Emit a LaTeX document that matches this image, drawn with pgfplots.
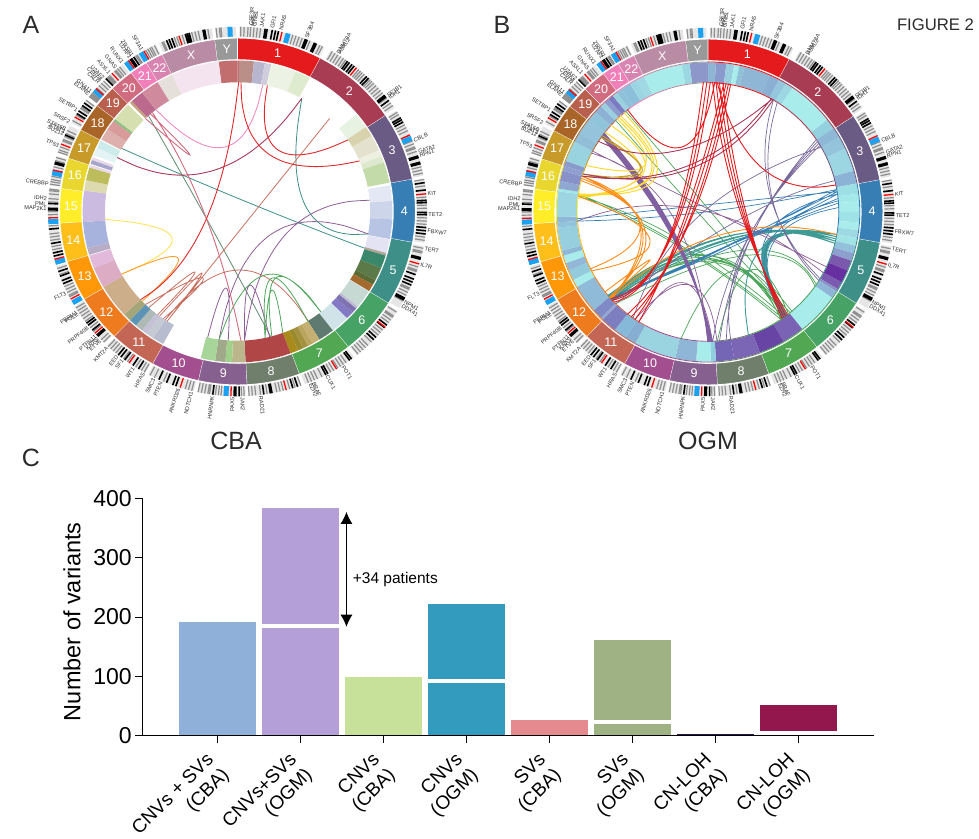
\documentclass[border=0pt]{standalone}
\usepackage{pgfplots}
\pgfplotsset{compat=1.18}
\usepackage{fontspec}
\setmainfont{Liberation Sans}
\usetikzlibrary{arrows.meta}
\definecolor{cband}{HTML}{1BA1F2}
\definecolor{cgm}{HTML}{8E8E8E}
\definecolor{ctxt}{HTML}{2B2B2B}

% ---- ring sector from angles (clockwise from the top) in picture pixels
\newcommand{\sectcore}[9]{%
  \edef\tmpb{\noexpand\xglobal\noexpand\definecolor{h#5}{HTML}{#5}}\tmpb
  \pgfmathtruncatemacro\nn{max(1,round((#7-#6)/2.5))}%
  \gdef\clist{}%
  \foreach \i in {0,...,\nn}{%
    \pgfmathsetmacro\aa{#6+(#7-#6)*\i/\nn}%
    \pgfmathsetmacro\xx{#1+#3*#9*sin(\aa)}%
    \pgfmathsetmacro\yy{#2-#4*#9*cos(\aa)}%
    \xdef\clist{\clist(\xx,\yy) }}%
  \foreach \i in {\nn,...,0}{%
    \pgfmathsetmacro\aa{#6+(#7-#6)*\i/\nn}%
    \pgfmathsetmacro\xx{#1+#3*#8*sin(\aa)}%
    \pgfmathsetmacro\yy{#2-#4*#8*cos(\aa)}%
    \xdef\clist{\clist(\xx,\yy) }}%
  \edef\tmp{\noexpand\addplot[fill=h#5,\secdraw] coordinates {\clist};}\tmp
}
\def\secdraw{draw=none}
% cx cy rx ry r1 r2 {a1/a2/hex,...}
\newcommand{\secs}[7]{%
  \edef\seclist{#7}%
  \foreach \p/\q/\h in \seclist {%
    \edef\tmpc{\noexpand\sectcore{#1}{#2}{#3}{#4}{\h}{\p}{\q}{#5}{#6}}\tmpc}%
}
% ---- ideogram bars
\newcommand{\bandlist}[7]{%
  \gdef\clist{}%
  \foreach \a in #7 {%
    \pgfmathsetmacro\xa{#1+#3*1.008*sin(\a)}%
    \pgfmathsetmacro\ya{#2-#4*1.008*cos(\a)}%
    \pgfmathsetmacro\xb{#1+#3*1.065*sin(\a)}%
    \pgfmathsetmacro\yb{#2-#4*1.065*cos(\a)}%
    \xdef\clist{\clist(\xa,\ya) (\xb,\yb) (nan,nan) }}%
  \edef\tmp{\noexpand\addplot[draw=#5,line width=#6pt] coordinates {\clist};}\tmp
}
\def\greylist{1,2,3.2,4,5,6,7,17,18,19,20,22.5,25.8,26.6,
30,31,32,33,34,34.8,39.8,40.5,41.2,42,44.5,45.2,46,47,48,49,50,52,54,55,
57.5,58.3,62,63,64,67.5,68.5,69.5,70,71,76,77,78,
80,82,85.5,88,89,92,93,94,98,99,
101.5,102.5,103,107.5,108.5,109,114.5,115,116,117,119,
123,124.5,125,126,127,130,131,132,135,136.5,137.5,138.5,139.5,140.5,
145,146,147,148,149.5,150.5,153.5,155,156,157,158,
160.5,162.3,164,166,167,168,171,173,174.5,175.5,176.5,
178,178.8,185,185.8,186.7,188.5,189,190,191,192,
194,195,196,203,206,207.5,
209.5,210.5,212.5,215.5,217,220,221,222,223,
225,226,229.5,231,233.5,234.5,235.5,236.5,237.5,238.5,
242.5,243,244,245,246,250,252,
258,259,261,262,263,265.5,
269,270,273,274,275.5,276.5,277,
278.5,279.3,280,281,284,286,287,
288.8,289.5,290.5,292.5,293,294,295,296,
299.5,301.5,304,304.5,307,
308.5,309,309.5,310,312,313,314,315,
316.5,317,317.5,319.5,320,320.7,321.5,
327.5,328,331,331.7,332.4,333,334,
336.5,337,340.5,341.3,343,346,347,348,351,353.5,354.5,355}
\def\blacklist{8.4,9,10.6,11.6,12.5,21,21.6,24,24.6,
35.5,36.2,37.2,38,43,43.8,51,51.6,53,
59.5,60.2,61,72.5,73,74.5,75,
81,83.3,86.5,87.2,90.3,91,95,96,97,
104.5,105,110,111.5,112.5,113.5,118,118.6,
128,129,133,134,143,143.7,151.5,152.2,
161.5,163,169.5,170,172,179.5,180.5,181,187.5,
199,200,202,204.5,211.5,213.5,216.5,218,219,
227.5,228,230,232,232.8,247,248,249.5,251,
256,257,260,264.5,270.5,271,272.5,285,285.5,294.5,
302,303,305,306,316,325.5,326,326.8,
338,338.8,339.7,344,344.6,345.2,349.5,350}
\def\bluelist{357.7,15.5,66.6,183.5,240.4,254,266.8,282.1,311,324,329.4}
\def\redlist{13.6,38.9,65.5,84.5,106.5,128.8,148.5,165.1,182,197.6,214.9,228.8,241.7,255,268,283,291.4,300.8,311.7,318.5,324.9,330.4,342}
\def\bandbg{0.6/27.3/E6E6E6,29.4/55.9/E6E6E6,56.9/78.8/E6E6E6,79.8/99.8/E6E6E6,100.8/121.5/E6E6E6,122.5/141/E6E6E6,142/159.2/E6E6E6,160.2/176.5/E6E6E6,177.5/192.3/E6E6E6,193.3/208.1/E6E6E6,209.1/223.5/E6E6E6,224.5/239.2/E6E6E6,240.2/252.8/E6E6E6,253.8/265.7/E6E6E6,266.7/277.2/E6E6E6,278.2/287.5/E6E6E6,288.5/297.7/E6E6E6,298.7/307.3/E6E6E6,308.3/314.9/E6E6E6,315.9/322.8/E6E6E6,323.8/328.7/E6E6E6,329.7/334.5/E6E6E6,335.5/352.2/E6E6E6,353.2/359.5/E6E6E6}
\newcommand{\ideogram}[4]{%
  \secs{#1}{#2}{#3}{#4}{1.008}{1.065}{\bandbg}%
  \bandlist{#1}{#2}{#3}{#4}{cgm}{1.2}{\greylist}%
  \bandlist{#1}{#2}{#3}{#4}{black}{1.6}{\blacklist}%
  \bandlist{#1}{#2}{#3}{#4}{cband}{5}{\bluelist}%
  \bandlist{#1}{#2}{#3}{#4}{red}{1.3}{\redlist}%
}
% ---- chromosome ring
\def\chromring{0/27.8/E41A1C,27.8/56.4/A83C52,56.4/79.3/6A5B85,79.3/100.3/377EB4,100.3/122/3E8F87,122/141.5/47A265,141.5/159.7/52A752,159.7/177/6F7F6C,177/192.8/86608E,192.8/208.6/A34E8F,208.6/224/C46655,224/239.7/EE7B1E,239.7/253.3/FF9809,253.3/266.2/FFBF1B,266.2/277.7/FFED29,277.7/288/E9D72F,288/298.2/C79A2A,298.2/307.8/A96427,307.8/315.4/B85F4E,315.4/323.3/D16B80,323.3/329.2/F180BA,329.2/335/D884B1,335/352.7/B98BA4,352.7/360/999999}
% ---- chord: angle of one end / apex x / apex y / angle of other end
\newcommand{\links}[7]{%
  \gdef\clist{}%
  \foreach \u/\mx/\my/\v in {#7}{%
    \pgfmathsetmacro\xa{#1+#3*sin(\u)}%
    \pgfmathsetmacro\ya{#2-#4*cos(\u)}%
    \pgfmathsetmacro\xb{#1+#3*sin(\v)}%
    \pgfmathsetmacro\yb{#2-#4*cos(\v)}%
    \foreach \ca/\cb/\cc in {1/0/0,.72/.36/-.08,.48/.64/-.12,.28/.84/-.12,.12/.96/-.08,0/1/0,-.08/.96/.12,-.12/.84/.28,-.12/.64/.48,-.08/.36/.72,0/0/1}{%
      \pgfmathsetmacro\xx{\ca*\xa+\cb*\mx+\cc*\xb}%
      \pgfmathsetmacro\yy{\ca*\ya+\cb*\my+\cc*\yb}%
      \xdef\clist{\clist(\xx,\yy) }}%
    \xdef\clist{\clist(nan,nan) }}%
  \xglobal\definecolor{l#5}{HTML}{#5}%
  \edef\tmp{\noexpand\addplot[draw=l#5,line width=#6pt,smooth,tension=0.5] coordinates {\clist};}\tmp
}
% ---- gene labels and chromosome names
\newcommand{\glabels}[5]{%
  \foreach \a/\lab in #5 {%
    \pgfmathsetmacro\xx{#1+#3*1.072*sin(\a)}%
    \pgfmathsetmacro\yy{838-#2+#4*1.072*cos(\a)}%
    \ifdim\a pt<180pt
      \pgfmathsetmacro\rr{90-\a}%
      \node[anchor=west,rotate=\rr,inner sep=0pt,text=ctxt,font=\fontsize{5.6}{6}\selectfont] at (\xx pt,\yy pt) {\lab};
    \else
      \pgfmathsetmacro\rr{270-\a}%
      \node[anchor=east,rotate=\rr,inner sep=0pt,text=ctxt,font=\fontsize{5.6}{6}\selectfont] at (\xx pt,\yy pt) {\lab};
    \fi}%
}
\def\genelist{4.0/CSF3R,4.6/MPL,5.2/GNB1,7.3/JAK1,10.5/GFI1,13.2/NRAS,21.2/SF3B4,31.7/DNMT3A,32.2/ASXL2,51.8/SF3B1,52.6/IDH1,67.5/CBLB,71.3/GATA2,72.5/RPN1,84.5/KIT,91/TET2,96/FBXW7,101.5/TERT,106.5/IL7R,119/NPM1,120.5/DDX41,146.5/POT1,152/CUX1,156.5/BRAF,157.5/EZH2,173/RAD21,178.5/JAK2,181.5/PAX5,187.5/HNRNPK,194/NOTCH1,198/ANKRD26,203.6/PTEN,206/SMC3,209.5/HRAS,213/WT1,217/SF1,219/EED,223/KMT2A,226/ETV6,227/KRAS,228/PTPN11,231.5/PRPF40B,236.6/POLE,237.2/PBRM1,244/FLT3,271/MAP2K1,272.2/PML,274/IDH2,278.5/CREBBP,290.7/TP53,294.5/SUZ12,295.3/STAT3,296/STAT5B,298.6/SRSF2,303/SETBP1,309/ELANE,310/GNA11,313.5/CALR,314.5/CEBPA,315.5/U2AF2,318/ASXL1,320.5/GNAS,323/RUNX1,325.8/U2AF1,326.6/ZRSR1,330/SF3A1}
\newcommand{\chromnames}[4]{%
  \foreach \a/\lab in {13.9/1,42.1/2,67.85/3,89.8/4,111.15/5,131.75/6,150.6/7,168.35/8,184.9/9,200.7/10,216.3/11,231.85/12,246.5/13,259.75/14,271.95/15,282.85/16,293.1/17,303/18,311.6/19,319.35/20,326.25/21,332.1/22,343.85/X,356.35/Y}{%
    \pgfmathsetmacro\xx{#1+#3*.937*sin(\a)}%
    \pgfmathsetmacro\yy{838-#2+#4*.937*cos(\a)}%
    \node[text=white,font=\fontsize{12.5}{13}\selectfont] at (\xx pt,\yy pt) {\lab};}%
}

\begin{document}
\begin{tikzpicture}
\useasboundingbox (0pt,0pt) rectangle (979pt,838pt);
\begin{axis}[at={(0pt,0pt)},anchor=south west,scale only axis,width=979pt,height=838pt,
  xmin=0,xmax=979,ymin=0,ymax=838,y dir=reverse,axis lines=none,clip=false,
  unbounded coords=jump,no markers]
% ============ panel A
\ideogram{237.5}{211.5}{178}{173.5}
\def\secdraw{draw=white,line width=0.9pt}
\secs{237.5}{211.5}{178}{173.5}{.875}{1}{\chromring}
\def\secdraw{draw=none}
\secs{237.5}{211.5}{178}{173.5}{.745}{.87}{353/360/C26E6E,0/0.6/C26E6E,0.6/6.1/B98F88,6.1/10.2/B8B5CE,10.2/12.6/CFCDDC,12.6/22/EDF3E4,22/27.8/DFEBCE,
50/56/E8F2E3,56/60/D8D3AC,60/66/E5E1CF,66/68.5/EDF0E0,68.5/71/DEE8CF,71/79/C2DBA9,
80/86/E4E8F4,86/93/CDD5EB,93/100.5/B7C4E3,100.7/106/E4E3F3,106/107/B0A595,107/112/39886C,112/117/5B7A47,117/119/5A6B38,119/121.8/A56A2D,
122/129/C7D9D3,129/130/C0BDD2,130/132/7E73B0,132/135/8379C4,135/142/CFE3E9,
142/148/5F7A70,148/151/C4B072,151/153/BBA560,153/155/A49240,155/157/9A8A2E,157/160/A88B1A,160/177/B04645,
177/182/BCB68C,182/184.5/A0D08A,184.5/188.3/A0A98A,188.3/193.7/A8D59A,
208.7/213/B8BCCF,213/216/C5C9D3,216/218/C4C0D6,218/221/AFBAB7,221/224/5D93B5,224/227/A4A67A,227/240/CCAE8A,
240/248/DBACC4,248/253/E2B8DB,253.3/256/B9ADC5,256/266/A7B2DD,266/278/CCBBE1,
278/282/DCDAAE,282/287/BEBD5E,287/288/EAD9E8,288.4/290/A7A7CE,290/291/EAD9E8,292/295/E4F3F4,295/298/CDEBEB,
298.5/303/DDAFAD,303/306.8/D89A9A,306.8/307.8/8FBE80,307.8/315/D6DFB0,
316/317/C4A37D,317/322/BB6A8E,322/329/CF8A9E,329/335/E5E0DA,335/353/F4E4F0}
\links{237.5}{211.5}{132.6}{129.3}{3E8F87}{0.8}{29/305/205/100,299.2/242/200/106.5}
\links{237.5}{211.5}{132.6}{129.3}{5F8A6C}{0.8}{317.8/210/225/165.5}
\links{237.5}{211.5}{132.6}{129.3}{C87060}{0.8}{44/248/220/212,222/195/272/217,216/202/273/212,224/203/278/214,213/240/270/147.8}
\links{237.5}{211.5}{132.6}{129.3}{8E5E96}{0.8}{193/226/288/184,177/250/285/166,85/285/235/177,100/270/235/188}
\links{237.5}{211.5}{132.6}{129.3}{4DA65A}{0.8}{141/277/277/165,148/272/278/168,188/265/275/141,160/272/290/168}
\links{237.5}{211.5}{132.6}{129.3}{FFE35A}{0.9}{266.5/172/238/241}
\links{237.5}{211.5}{132.6}{129.3}{FF9F2E}{0.9}{241/178/258/226}
\links{237.5}{211.5}{132.6}{129.3}{D06B80}{0.9}{320/205/215/178.5,316/190/155/319}
\links{237.5}{211.5}{132.6}{129.3}{F08CC0}{0.9}{11/225/147/322}
\links{237.5}{211.5}{132.6}{129.3}{A8385A}{0.9}{29/215/170/294.7}
\links{237.5}{211.5}{132.6}{129.3}{E0292B}{0.9}{0.5/205/222/227,1.5/270/155/67,13/278/150/56.4}
% ============ panel B
\ideogram{708}{212}{175}{173}
\def\secdraw{draw=white,line width=0.9pt}
\secs{708}{212}{175}{173}{.875}{1}{\chromring}
\def\secdraw{draw=none}
\secs{708}{212}{175}{173}{.75}{.865}{353/360/8D97C9,0/3/8FB5D5,3/7/8B9ACD,7/10/9ACFE0,10/12/A8EDEB,12/14/8FC2D9,14/24/8FB7D5,24/28/8AAFD3,
28/31/94C7DD,31/34/9CD8E3,34/52/A8EDEB,52/56/93D1DE,56/60/8FB8D6,60/65/93C4DB,65/74/9BD6E2,74/79/8CB3D5,
79/83/9CE0E5,83/86/A3E9E9,86/90/A8EDEB,90/94/A0E3E6,94/97/A8EDEB,97/100/9DD9E3,
100/103/A2E3E6,103/106/92C2DB,106/109/8C9FCF,109/113/7A58AC,113/118/6630A0,118/121/7A5BB0,121/122/8C90C8,
122/125/8FB5D7,125/141.5/A8EDEB,141.5/150/7A62B5,150/160/6845A5,160/170/7A66B5,170/177/7466B4,
177/179/8FCEDF,179/184.5/A8EDEB,184.5/192.5/8FB6D6,192.5/208.7/9AD4E1,208.7/213/86AED2,213/218/86B9D8,218/224/7D7EC0,
224/225/94A6CF,225/229/7F8AC6,229/240/90BBD8,240/243/A8EDEB,243/247/93CBDD,247/250/93B7D6,250/253/A8EDEB,
253/255/8FB8D6,255/264/97CFDE,264/266/92C3DA,266/268/8FB8D6,268/278/9DD6E2,
278/279/A0E6E8,279/282/8FA8D2,282/286/8891C8,286/288/8F9FCF,288/290/8A9ACC,290/298/99D3E0,
298/302/93BED8,302/308/94C3DB,308/312/8FC4DA,312/315/8DB0D5,315/317/9BCFDD,317/319/8C9ACD,319/321/7C7AC0,321/323/9BD0DE,
323/325/8EC0D9,325/329/8CC0DA,329/332/9CD5E2,332/335/A0D8E4,335/350/A8EDEB,350/353/9BD8E2}
% thin outline of the ring in each chromosome's colour
\secs{708}{212}{175}{173}{.745}{.75}{\chromring}
\secs{708}{212}{175}{173}{.865}{.87}{\chromring}
\links{708}{212}{131}{130}{4DA65A}{0.7}{143/710/260/228,144/708/258/228.5,144.5/712/262/227.5,145/714/260/227,146/712/256/229,145.5/706/255/229.5,192/735/270/143,176/750/270/142,277/680/240/144,278/680/245/145,277.5/685/250/146,315/700/215/141,321/705/205/140,125/750/255/225,124/745/250/227}
\links{708}{212}{131}{130}{3E9A94}{0.9}{100/770/244/143,101/769/243/143.5,102/768/243/144,103/767/243/144.5,104/766/242/145,100/735/240/228,101/735/238/228.5,102/732/238/229,103/730/236/229.5,104/728/236/230,100/760/250/162}
\links{708}{212}{131}{130}{377EB4}{0.7}{266/705/212/80,267/705/205/81,80/720/250/228,81/722/248/228.5,82/725/250/229,84/728/246/227,86/730/245/227.5,82/765/240/143,85/768/245/144,88/772/245/145}
\links{708}{212}{131}{130}{7A6A9C}{0.7}{56/750/240/172,57/752/235/175,58/748/238/178,59/745/245/170,60/700/215/215,76/735/222/225,121/770/195/30,122/772/198/32}
\links{708}{212}{131}{130}{8E5E96}{0.7}{298/690/200/115,266/700/210/118,212/685/283/178,214/690/285/176,297/672/215/180}
\links{708}{212}{131}{130}{8060A0}{1.0}{305.5/673/238/178,306/674/238/178.5,306.5/675/238/179,307/676/238/179.5,307.5/677/238/180}
\links{708}{212}{131}{130}{FFD92F}{1.0}{317/650/175/277,318/652/175/277.5,320/655/178/278,316/645/165/291,308/640/175/277,312/644/172/276}
\links{708}{212}{131}{130}{C9A227}{0.9}{286/640/170/305,287/642/172/306}
\links{708}{212}{131}{130}{FF8C1A}{0.9}{228/640/225/286,228.5/642/228/285,229/645/230/284,277/650/240/243,244/640/225/286,228/720/235/100,229/650/260/232}
\links{708}{212}{131}{130}{A8385A}{0.9}{29/690/165/286,30/692/168/287,29.5/680/150/303}
\links{708}{212}{131}{130}{E41A1C}{0.9}{-2/668/240/226,-.5/670/238/227,1/672/236/228,7/682/225/212,8/684/226/214,9/686/228/216,10/688/226/218,2/738/205/142.5,3.5/740/205/143.5,5/742/205/144.5,6.5/744/205/145.5,3/682/147/322,4/762/168/78}
\end{axis}
% ============ panel C
\begin{axis}[at={(142.3pt,102.3pt)},anchor=south west,scale only axis,width=731.7pt,height=237.4pt,
  xmin=-0.906,xmax=7.911,ymin=0,ymax=400,
  axis x line*=bottom,axis y line*=left,axis line style={line width=1pt,-},axis on top,
  tick align=outside,major tick length=7pt,tick style={black,line width=1pt},
  xtick={0,1,2,3,4,5,6,7},ytick={0,100,200,300,400},
  xticklabels={{CNVs + SVs\\(CBA)},{CNVs+SVs\\(OGM)},{CNVs\\(CBA)},{CNVs\\(OGM)},{SVs\\(CBA)},{SVs\\(OGM)},{CN-LOH\\(CBA)},{CN-LOH\\(OGM)}},
  xticklabel style={rotate=45,anchor=east,align=right,font=\fontsize{19}{22}\selectfont,yshift=-16.7pt,xshift=-11.3pt},
  yticklabel style={font=\fontsize{23}{24}\selectfont},
  /pgf/number format/assume math mode=true,
  ylabel={Number of variants},
  every axis y label/.style={at={(axis description cs:-0.096,0.48)},rotate=90,anchor=center,font=\fontsize{23.5}{24}\selectfont},
  mybar/.style={ybar,bar shift=0pt,bar width=76.8pt,draw=none}]
\addplot[mybar,fill={rgb,255:red,143;green,176;blue,217}] coordinates {(0,191.6)};
\addplot[mybar,fill={rgb,255:red,180;green,159;blue,217}] coordinates {(1,384)};
\addplot[mybar,fill=white] coordinates {(1,188)};
\addplot[mybar,fill={rgb,255:red,180;green,159;blue,217}] coordinates {(1,181.5)};
\addplot[mybar,fill={rgb,255:red,199;green,224;blue,154}] coordinates {(2,98.9)};
\addplot[mybar,fill={rgb,255:red,51;green,155;blue,189}] coordinates {(3,221.9)};
\addplot[mybar,fill=white] coordinates {(3,95.5)};
\addplot[mybar,fill={rgb,255:red,51;green,155;blue,189}] coordinates {(3,88.8)};
\addplot[mybar,fill={rgb,255:red,229;green,139;blue,144}] coordinates {(4,26.5)};
\addplot[mybar,fill={rgb,255:red,159;green,178;blue,132}] coordinates {(5,161.3)};
\addplot[mybar,fill=white] coordinates {(5,26.5)};
\addplot[mybar,fill={rgb,255:red,159;green,178;blue,132}] coordinates {(5,19.7)};
\addplot[mybar,fill={rgb,255:red,45;green,15;blue,78}] coordinates {(6,3)};
\addplot[mybar,fill={rgb,255:red,147;green,23;blue,77}] coordinates {(7,51.7)};
\addplot[mybar,fill=white] coordinates {(7,8)};
\addplot[black,line width=0.8pt,{Latex[length=12pt,width=12pt]}-{Latex[length=12pt,width=12pt]}] coordinates {(1.554,377) (1.554,183.7)};
\end{axis}
% ============ text
\glabels{237.5}{211.5}{178}{173.5}{\genelist}
\glabels{708}{212}{175}{173}{\genelist}
\chromnames{237.5}{211.5}{178}{173.5}
\chromnames{708}{212}{175}{173}
\node[text=ctxt,font=\fontsize{25}{26}\selectfont] at (31pt,813pt) {A};
\node[text=ctxt,font=\fontsize{25}{26}\selectfont] at (502pt,813pt) {B};
\node[text=ctxt,font=\fontsize{25}{26}\selectfont] at (31pt,380pt) {C};
\node[text=ctxt,font=\fontsize{25}{26}\selectfont] at (236pt,397pt) {CBA};
\node[text=ctxt,font=\fontsize{25}{26}\selectfont] at (708pt,397pt) {OGM};
\node[text=ctxt,font=\fontsize{16.7}{17}\selectfont] at (935.5pt,813pt) {FIGURE 2};
\node[anchor=west,inner sep=0pt,text=black,font=\fontsize{15.5}{16}\selectfont] at (352.7pt,258.5pt) {+34 patients};
\end{tikzpicture}
\end{document}
